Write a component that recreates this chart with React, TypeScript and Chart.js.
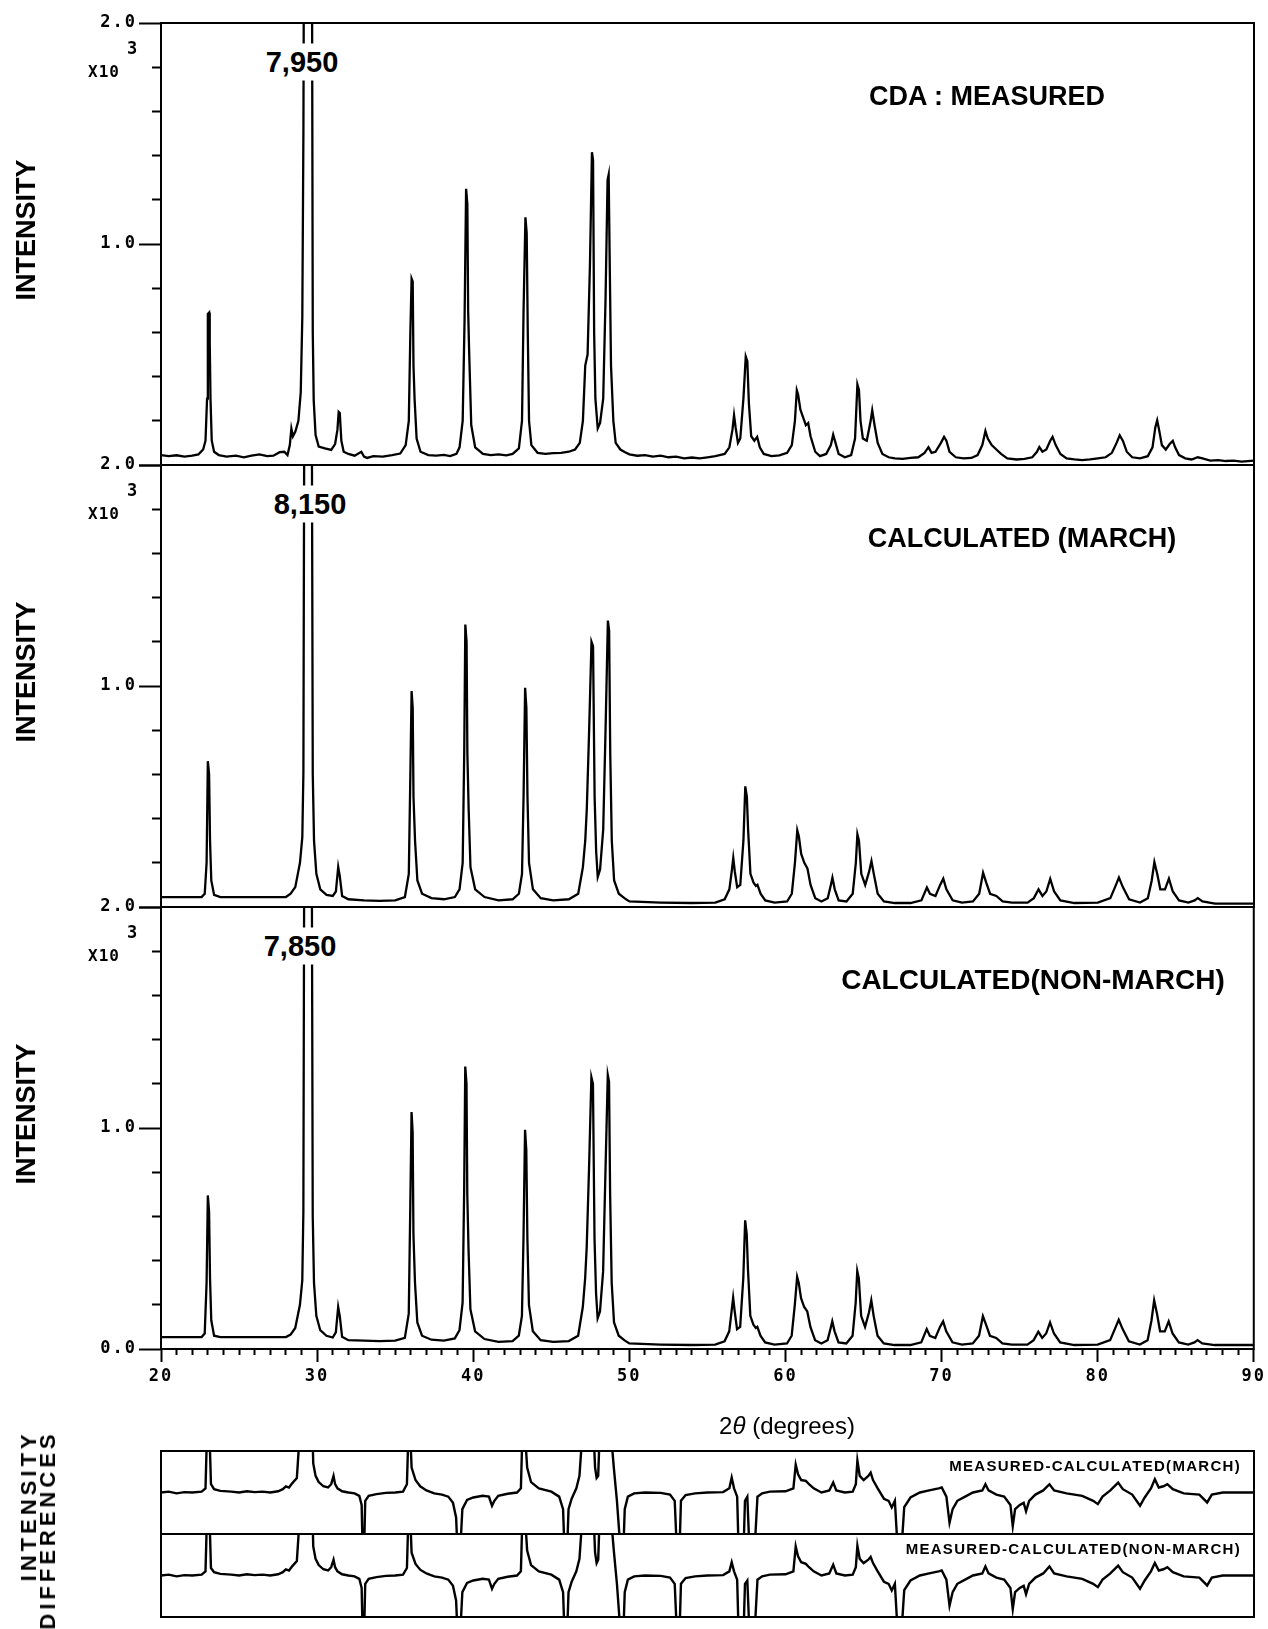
import React, { useEffect, useRef } from "react";
import { Chart, registerables } from "chart.js";

Chart.register(...registerables);

type Pt = [number, number];

// ---------- DATA (2θ in degrees, intensity in counts) ----------
const measured: Pt[] = [
  [20.0, 45], [20.5, 40], [21.0, 44], [21.5, 38], [22.0, 42], [22.4, 48], [22.7, 70], [22.85, 110],
  [22.95, 300], [23.0, 684], [23.08, 690], [23.12, 560], [23.17, 300], [23.25, 110], [23.4, 60],
  [23.7, 45], [24.2, 38], [24.8, 42], [25.3, 35], [25.8, 42], [26.3, 48], [26.8, 40], [27.2, 42],
  [27.6, 58], [27.9, 60], [28.1, 45], [28.25, 90], [28.35, 165], [28.45, 130], [28.6, 150],
  [28.8, 200], [28.95, 330], [29.05, 669], [29.12, 1500], [29.18, 3000], [29.35, 7950],
  [29.5, 5200], [29.66, 2600], [29.72, 600], [29.78, 293], [29.9, 136], [30.1, 83], [30.5, 75],
  [30.9, 68], [31.15, 95], [31.3, 160], [31.38, 240], [31.45, 235], [31.55, 110], [31.7, 60],
  [32.0, 50], [32.4, 42], [32.83, 60], [33.0, 38], [33.2, 32], [33.6, 40], [34.2, 38], [34.8, 45],
  [35.32, 52], [35.67, 90], [35.87, 200], [35.97, 600], [36.05, 843], [36.12, 830], [36.17, 450],
  [36.24, 300], [36.37, 120], [36.62, 60], [37.12, 45], [37.62, 42], [38.12, 46], [38.52, 40],
  [38.92, 50], [39.12, 80], [39.32, 200], [39.44, 650], [39.54, 1250], [39.62, 1180], [39.67, 700],
  [39.74, 500], [39.87, 180], [40.12, 80], [40.62, 50], [41.12, 45], [41.62, 48], [42.12, 44],
  [42.52, 50], [42.92, 75], [43.12, 200], [43.22, 700], [43.34, 1121], [43.42, 1050], [43.49, 600],
  [43.57, 200], [43.72, 90], [44.12, 55], [44.62, 50], [45.12, 54], [45.62, 55], [46.12, 60],
  [46.52, 70], [46.82, 100], [47.02, 200], [47.17, 450], [47.32, 500], [47.47, 900], [47.6, 1415],
  [47.67, 1380], [47.74, 600], [47.82, 300], [47.97, 166], [48.12, 190], [48.32, 300], [48.47, 750],
  [48.6, 1290], [48.67, 1314], [48.74, 900], [48.82, 450], [48.97, 200], [49.12, 100], [49.42, 70],
  [49.72, 58], [50.0, 48], [50.5, 42], [51.0, 45], [51.5, 38], [52.0, 42], [52.5, 35], [53.0, 38],
  [53.5, 30], [54.0, 34], [54.5, 30], [55.0, 35], [55.5, 40], [56.1, 50], [56.4, 80], [56.6, 160],
  [56.7, 225], [56.8, 170], [56.95, 100], [57.1, 120], [57.3, 300], [57.45, 491], [57.55, 470],
  [57.65, 280], [57.8, 130], [58.0, 110], [58.18, 127], [58.35, 80], [58.6, 50], [59.1, 40],
  [59.6, 44], [60.1, 55], [60.4, 90], [60.6, 200], [60.72, 338], [60.8, 320], [60.95, 250],
  [61.1, 220], [61.3, 180], [61.45, 190], [61.6, 130], [61.9, 60], [62.2, 40], [62.6, 50],
  [62.9, 90], [63.05, 137], [63.2, 100], [63.4, 50], [63.8, 35], [64.2, 45], [64.45, 120],
  [64.6, 365], [64.7, 340], [64.8, 200], [64.95, 120], [65.2, 110], [65.45, 200], [65.55, 247],
  [65.7, 180], [65.9, 100], [66.2, 50], [66.6, 35], [67.0, 30], [67.5, 28], [68.0, 32], [68.5, 35],
  [68.9, 55], [69.15, 81], [69.35, 55], [69.6, 60], [69.95, 100], [70.15, 127], [70.3, 110],
  [70.5, 60], [70.9, 35], [71.4, 30], [71.9, 32], [72.3, 45], [72.6, 90], [72.8, 154], [72.95, 120],
  [73.2, 90], [73.5, 70], [73.8, 50], [74.2, 30], [74.8, 25], [75.3, 28], [75.8, 35], [76.1, 60],
  [76.25, 81], [76.45, 60], [76.7, 70], [76.95, 110], [77.1, 127], [77.3, 90], [77.6, 50],
  [78.0, 30], [78.5, 25], [79.0, 22], [79.5, 25], [80.0, 30], [80.5, 35], [80.9, 55], [81.2, 100],
  [81.4, 134], [81.6, 110], [81.85, 60], [82.2, 35], [82.7, 30], [83.2, 40], [83.5, 80],
  [83.68, 170], [83.8, 202], [83.92, 160], [84.1, 90], [84.35, 70], [84.6, 95], [84.8, 109],
  [84.95, 80], [85.2, 45], [85.6, 30], [86.0, 25], [86.4, 35], [86.7, 30], [87.2, 20], [87.7, 22],
  [88.2, 18], [88.7, 20], [89.2, 15], [90.0, 20],
];

const calcMarch: Pt[] = [
  [20.0, 45], [22.6, 45], [22.8, 60], [22.92, 200], [23.0, 660], [23.08, 600], [23.14, 300],
  [23.22, 120], [23.4, 55], [23.8, 45], [28.0, 45], [28.3, 60], [28.6, 90], [28.9, 200],
  [29.05, 316], [29.12, 610], [29.2, 3000], [29.35, 8150], [29.5, 5000], [29.65, 2500],
  [29.72, 600], [29.8, 300], [29.95, 150], [30.2, 80], [30.6, 55], [31.0, 50], [31.2, 70],
  [31.35, 181], [31.45, 140], [31.6, 50], [32.0, 35], [33.0, 30], [34.0, 28], [35.0, 30],
  [35.62, 45], [35.87, 150], [35.97, 600], [36.05, 977], [36.12, 900], [36.17, 500], [36.27, 300],
  [36.42, 120], [36.72, 60], [37.32, 40], [38.12, 35], [38.82, 45], [39.12, 80], [39.32, 200],
  [39.42, 700], [39.49, 1278], [39.57, 1200], [39.62, 700], [39.7, 450], [39.82, 180], [40.12, 80],
  [40.72, 45], [41.62, 30], [42.52, 35], [42.92, 60], [43.12, 150], [43.22, 500], [43.32, 992],
  [43.4, 900], [43.47, 500], [43.57, 200], [43.82, 80], [44.32, 40], [45.12, 30], [46.12, 35],
  [46.72, 60], [47.02, 180], [47.17, 300], [47.27, 445], [47.42, 800], [47.57, 1200], [47.67, 1180],
  [47.77, 500], [47.87, 250], [47.97, 136], [48.12, 170], [48.32, 350], [48.47, 800], [48.62, 1296],
  [48.7, 1250], [48.77, 700], [48.87, 300], [49.02, 120], [49.32, 60], [49.72, 38], [50.0, 25],
  [52.0, 20], [54.0, 18], [55.5, 20], [56.1, 35], [56.4, 80], [56.55, 160], [56.65, 222],
  [56.75, 160], [56.9, 90], [57.1, 100], [57.3, 300], [57.42, 546], [57.52, 500], [57.6, 350],
  [57.75, 150], [57.95, 110], [58.1, 95], [58.2, 100], [58.4, 60], [58.7, 30], [59.3, 20],
  [60.1, 25], [60.4, 60], [60.6, 200], [60.75, 347], [60.85, 320], [61.0, 240], [61.2, 200],
  [61.4, 175], [61.6, 100], [61.9, 40], [62.3, 25], [62.7, 40], [62.9, 100], [63.0, 133],
  [63.15, 80], [63.4, 30], [63.9, 25], [64.3, 60], [64.5, 200], [64.6, 329], [64.7, 300],
  [64.85, 150], [65.1, 100], [65.35, 160], [65.5, 208], [65.65, 150], [65.9, 60], [66.3, 25],
  [67.0, 18], [68.0, 18], [68.7, 30], [69.05, 88], [69.25, 60], [69.6, 50], [69.9, 100],
  [70.1, 128], [70.3, 80], [70.7, 30], [71.3, 20], [72.0, 25], [72.4, 60], [72.65, 155],
  [72.85, 110], [73.1, 60], [73.5, 50], [73.9, 25], [74.5, 20], [75.5, 20], [75.9, 40],
  [76.2, 80], [76.45, 50], [76.7, 70], [76.95, 127], [77.2, 70], [77.6, 30], [78.5, 18],
  [80.0, 20], [80.8, 40], [81.1, 90], [81.35, 133], [81.6, 90], [82.0, 35], [82.7, 20],
  [83.2, 40], [83.45, 120], [83.62, 203], [83.8, 150], [84.0, 80], [84.3, 80], [84.55, 128],
  [84.8, 70], [85.2, 30], [85.8, 20], [86.2, 30], [86.4, 40], [86.7, 25], [87.5, 15], [90.0, 15],
];

const calcNonMarch: Pt[] = [
  [20.0, 54], [22.6, 54], [22.8, 70], [22.92, 300], [23.0, 695], [23.08, 620], [23.14, 320],
  [23.22, 130], [23.4, 60], [23.8, 54], [28.0, 54], [28.3, 65], [28.6, 95], [28.9, 200],
  [29.05, 310], [29.12, 620], [29.2, 3000], [29.35, 7850], [29.5, 5000], [29.65, 2500],
  [29.72, 600], [29.8, 300], [29.95, 150], [30.2, 85], [30.6, 60], [31.0, 52], [31.2, 75],
  [31.35, 190], [31.45, 150], [31.6, 55], [32.0, 40], [33.0, 38], [34.0, 36], [35.0, 38],
  [35.62, 50], [35.87, 160], [35.97, 650], [36.05, 1072], [36.12, 980], [36.17, 520], [36.27, 300],
  [36.42, 120], [36.72, 60], [37.32, 42], [38.12, 38], [38.82, 48], [39.12, 85], [39.32, 210],
  [39.42, 720], [39.49, 1278], [39.57, 1200], [39.62, 700], [39.7, 450], [39.82, 180], [40.12, 80],
  [40.72, 45], [41.62, 32], [42.52, 36], [42.92, 60], [43.12, 150], [43.22, 500], [43.32, 992],
  [43.4, 900], [43.47, 500], [43.57, 200], [43.82, 80], [44.32, 40], [45.12, 32], [46.12, 36],
  [46.72, 60], [47.02, 190], [47.17, 320], [47.27, 461], [47.42, 820], [47.57, 1230], [47.67, 1200],
  [47.77, 500], [47.87, 250], [47.97, 139], [48.12, 170], [48.32, 350], [48.47, 800], [48.62, 1240],
  [48.7, 1210], [48.77, 700], [48.87, 300], [49.02, 120], [49.32, 60], [49.72, 38], [50.0, 25],
  [52.0, 20], [54.0, 18], [55.5, 20], [56.1, 35], [56.4, 80], [56.55, 170], [56.65, 232],
  [56.75, 170], [56.9, 90], [57.1, 100], [57.3, 320], [57.42, 582], [57.52, 520], [57.6, 360],
  [57.75, 150], [57.95, 110], [58.1, 95], [58.2, 100], [58.4, 60], [58.7, 30], [59.3, 20],
  [60.1, 25], [60.4, 60], [60.6, 200], [60.75, 326], [60.85, 300], [61.0, 230], [61.2, 190],
  [61.4, 170], [61.6, 100], [61.9, 40], [62.3, 25], [62.7, 40], [62.9, 95], [63.0, 125],
  [63.15, 80], [63.4, 30], [63.9, 25], [64.3, 60], [64.5, 210], [64.6, 353], [64.7, 320],
  [64.85, 150], [65.1, 100], [65.35, 165], [65.5, 220], [65.65, 150], [65.9, 60], [66.3, 25],
  [67.0, 18], [68.0, 18], [68.7, 30], [69.05, 90], [69.25, 60], [69.6, 50], [69.9, 100],
  [70.1, 125], [70.3, 80], [70.7, 30], [71.3, 20], [72.0, 25], [72.4, 60], [72.65, 148],
  [72.85, 110], [73.1, 60], [73.5, 50], [73.9, 25], [74.5, 20], [75.5, 20], [75.9, 40],
  [76.2, 78], [76.45, 50], [76.7, 70], [76.95, 120], [77.2, 70], [77.6, 30], [78.5, 18],
  [80.0, 20], [80.8, 40], [81.1, 90], [81.35, 132], [81.6, 90], [82.0, 35], [82.7, 20],
  [83.2, 40], [83.45, 130], [83.62, 220], [83.8, 160], [84.0, 80], [84.3, 80], [84.55, 125],
  [84.8, 70], [85.2, 30], [85.8, 20], [86.2, 30], [86.4, 40], [86.7, 25], [87.5, 18], [90.0, 18],
];

// Differences, arbitrary units (panel spans -100 .. 100; larger values run off the frame)
const diffMarch: Pt[] = [
  [20.0, 0], [20.5, 2], [21.0, -2], [21.5, 1], [22.0, 0], [22.6, 2], [22.85, 10], [22.95, 150],
  [23.1, 150], [23.2, 20], [23.4, 8], [23.8, 4], [24.5, 2], [25.0, 0], [25.5, 3], [26.0, 1],
  [26.5, 2], [27.0, 0], [27.5, 3], [27.8, 8], [28.0, 15], [28.2, 12], [28.4, 22], [28.7, 35],
  [28.9, 150], [29.7, 150], [29.75, 70], [29.9, 40], [30.1, 25], [30.4, 15], [30.7, 12],
  [30.9, 20], [31.05, 40], [31.15, 20], [31.3, 10], [31.6, 3], [32.0, 0], [32.4, -2], [32.7, -8],
  [32.85, -30], [32.92, -150], [33.0, -150], [33.08, -20], [33.3, -8], [33.8, -4], [34.4, -1],
  [35.0, 0], [35.5, 2], [35.75, 20], [35.85, 150], [35.95, 150], [36.05, 60], [36.3, 30],
  [36.6, 15], [37.0, 5], [37.5, -2], [38.0, -5], [38.4, -10], [38.7, -25], [38.9, -60],
  [39.0, -150], [39.15, -150], [39.3, -40], [39.6, -18], [40.0, -12], [40.6, -8], [41.0, -10],
  [41.2, -32], [41.35, -20], [41.6, -8], [42.2, -3], [42.8, 0], [43.05, 10], [43.15, 150],
  [43.3, 150], [43.45, 60], [43.7, 25], [44.2, 10], [45.0, 2], [45.5, -10], [45.75, -40],
  [45.85, -150], [46.0, -150], [46.1, -40], [46.3, -15], [46.6, 10], [46.8, 40], [47.0, 150],
  [47.7, 150], [47.8, 60], [47.9, 35], [48.0, 40], [48.1, 150], [48.8, 150], [49.0, 60],
  [49.2, -20], [49.45, -150], [49.6, -150], [49.7, -40], [49.9, -10], [50.3, -2], [51.0, 0],
  [52.0, -1], [52.6, -5], [52.9, -20], [53.05, -150], [53.2, -150], [53.3, -20], [53.6, -6],
  [54.2, -2], [55.0, 0], [56.0, 1], [56.4, 10], [56.55, 36], [56.7, 10], [56.9, -10],
  [57.0, -150], [57.3, -150], [57.4, -20], [57.55, -10], [57.7, -150], [58.0, -150], [58.2, -10],
  [58.5, -2], [59.0, 2], [60.0, 3], [60.5, 10], [60.65, 67], [60.8, 44], [61.0, 30], [61.3, 28],
  [61.5, 20], [61.8, 10], [62.3, 0], [62.8, 5], [63.05, 24], [63.25, 5], [63.8, 0], [64.3, 2],
  [64.5, 20], [64.6, 77], [64.75, 40], [65.0, 30], [65.3, 40], [65.45, 48], [65.6, 30],
  [65.9, 10], [66.3, -15], [66.6, -20], [66.8, -36], [67.0, -20], [67.2, -150], [67.4, -150],
  [67.6, -35], [68.0, -12], [68.6, 0], [69.2, 5], [69.8, 10], [70.0, 12], [70.3, -10],
  [70.5, -73], [70.7, -40], [71.0, -20], [71.5, -10], [72.0, 0], [72.6, 5], [72.8, 20], [73.0, 5],
  [73.5, -5], [74.0, -10], [74.4, -30], [74.55, -81], [74.7, -40], [75.0, -30], [75.25, -25],
  [75.4, -45], [75.6, -20], [76.0, -5], [76.5, 5], [76.9, 20], [77.2, 5], [78.0, -2], [79.0, -8],
  [79.7, -20], [80.0, -28], [80.3, -10], [80.8, 5], [81.3, 24], [81.6, 8], [82.2, -5],
  [82.7, -32], [83.0, -12], [83.4, 10], [83.65, 32], [83.9, 12], [84.2, 15], [84.45, 20],
  [84.8, 8], [85.5, -2], [86.5, -5], [87.0, -24], [87.3, -5], [88.0, 0], [89.0, 0], [90.0, 0],
];

const diffNonMarch: Pt[] = [
  [20.0, 0], [20.5, 2], [21.0, -2], [21.5, 1], [22.0, 0], [22.6, 2], [22.85, 10], [22.95, 150],
  [23.1, 150], [23.2, 18], [23.4, 8], [23.8, 4], [24.5, 2], [25.0, 0], [25.5, 3], [26.0, 1],
  [26.5, 2], [27.0, 0], [27.5, 3], [27.8, 8], [28.0, 15], [28.2, 12], [28.4, 22], [28.7, 35],
  [28.9, 150], [29.7, 150], [29.75, 70], [29.9, 40], [30.1, 25], [30.4, 15], [30.7, 12],
  [30.9, 20], [31.05, 38], [31.15, 20], [31.3, 10], [31.6, 3], [32.0, 0], [32.4, -2], [32.7, -8],
  [32.85, -30], [32.92, -150], [33.0, -150], [33.08, -20], [33.3, -8], [33.8, -4], [34.4, -1],
  [35.0, 0], [35.5, 2], [35.75, 18], [35.85, 150], [35.95, 150], [36.05, 55], [36.3, 28],
  [36.6, 14], [37.0, 5], [37.5, -2], [38.0, -5], [38.4, -10], [38.7, -25], [38.9, -60],
  [39.0, -150], [39.15, -150], [39.3, -40], [39.6, -18], [40.0, -12], [40.6, -8], [41.0, -10],
  [41.2, -32], [41.35, -20], [41.6, -8], [42.2, -3], [42.8, 0], [43.05, 10], [43.15, 150],
  [43.3, 150], [43.45, 60], [43.7, 25], [44.2, 10], [45.0, 2], [45.5, -10], [45.75, -40],
  [45.85, -150], [46.0, -150], [46.1, -40], [46.3, -15], [46.6, 10], [46.8, 40], [47.0, 150],
  [47.7, 150], [47.8, 55], [47.9, 30], [48.0, 38], [48.1, 150], [48.8, 150], [49.0, 60],
  [49.2, -20], [49.45, -150], [49.6, -150], [49.7, -40], [49.9, -10], [50.3, -2], [51.0, 0],
  [52.0, -1], [52.6, -5], [52.9, -20], [53.05, -150], [53.2, -150], [53.3, -20], [53.6, -6],
  [54.2, -2], [55.0, 0], [56.0, 1], [56.4, 10], [56.55, 32], [56.7, 10], [56.9, -10],
  [57.0, -150], [57.3, -150], [57.4, -20], [57.55, -12], [57.7, -150], [58.0, -150], [58.2, -10],
  [58.5, -2], [59.0, 2], [60.0, 3], [60.5, 10], [60.65, 70], [60.8, 46], [61.0, 32], [61.3, 28],
  [61.5, 20], [61.8, 10], [62.3, 0], [62.8, 5], [63.05, 26], [63.25, 5], [63.8, 0], [64.3, 2],
  [64.5, 20], [64.6, 72], [64.75, 40], [65.0, 30], [65.3, 38], [65.45, 45], [65.6, 30],
  [65.9, 10], [66.3, -15], [66.6, -20], [66.8, -36], [67.0, -20], [67.2, -150], [67.4, -150],
  [67.6, -35], [68.0, -12], [68.6, 0], [69.2, 5], [69.8, 10], [70.0, 12], [70.3, -10],
  [70.5, -73], [70.7, -40], [71.0, -20], [71.5, -10], [72.0, 0], [72.6, 5], [72.8, 22], [73.0, 5],
  [73.5, -5], [74.0, -10], [74.4, -30], [74.55, -81], [74.7, -40], [75.0, -30], [75.25, -25],
  [75.4, -45], [75.6, -20], [76.0, -5], [76.5, 5], [76.9, 22], [77.2, 5], [78.0, -2], [79.0, -8],
  [79.7, -20], [80.0, -28], [80.3, -10], [80.8, 5], [81.3, 24], [81.6, 8], [82.2, -5],
  [82.7, -32], [83.0, -12], [83.4, 10], [83.65, 30], [83.9, 12], [84.2, 15], [84.45, 20],
  [84.8, 8], [85.5, -2], [86.5, -5], [87.0, -24], [87.3, -5], [88.0, 0], [89.0, 0], [90.0, 0],
];

const panelTitles = ["CDA : MEASURED", "CALCULATED (MARCH)", "CALCULATED(NON-MARCH)"];
const peakLabels = ["7,950", "8,150", "7,850"];
const diffTitles = ["MEASURED-CALCULATED(MARCH)", "MEASURED-CALCULATED(NON-MARCH)"];
const xRange: [number, number] = [20, 90];
const yRange: [number, number] = [0, 2000];
const yLabelValues = [2000, 1000, 0];
const yLabelText = ["2.0", "1.0", "0.0"];

// ---------- LAYOUT ----------
const PAGE_W = 1268;
const PLOT_L = 161;
const PLOT_R = 1254;
const PANEL_TOPS = [23, 465, 907];
const PANEL_H = 442;
const DIFF_TOPS = [1451, 1534];
const DIFF_H = 83;
const PAD = 20;
const X_AXIS_H = 70;

const TICK_FONT = "'DejaVu Sans Mono', 'Liberation Mono', monospace";
const SANS = "'Liberation Sans', Arial, Helvetica, sans-serif";

const framePlugin = {
  id: "frame",
  beforeDraw(chart: any) {
    (chart.ctx as any).letterSpacing = "2px";
  },
  afterDatasetsDraw(chart: any) {
    const { ctx, chartArea: a } = chart;
    ctx.save();
    ctx.strokeStyle = "#000";
    ctx.lineWidth = 2;
    ctx.strokeRect(a.left, a.top, a.right - a.left, a.bottom - a.top);
    ctx.restore();
  },
};

function toXY(pts: Pt[]) {
  return pts.map(([x, y]) => ({ x, y }));
}

function mainOptions(showX: boolean, showZero: boolean) {
  return {
    animation: false,
    responsive: false,
    maintainAspectRatio: false,
    devicePixelRatio: 1,
    events: [],
    layout: { padding: { top: PAD, bottom: showX ? 0 : PAD, left: 0, right: PAGE_W - PLOT_R } },
    plugins: { legend: { display: false }, tooltip: { enabled: false } },
    elements: { point: { radius: 0 } },
    scales: {
      x: {
        type: "linear",
        min: xRange[0],
        max: xRange[1],
        display: showX,
        border: { display: false },
        grid: {
          drawOnChartArea: false,
          drawTicks: true,
          tickLength: 13,
          tickWidth: 2,
          tickColor: "#000",
          tickBorderDash: (c: any) => (c.tick && Math.abs(c.tick.value % 10) < 1e-6 ? [] : [6, 40]),
        },
        ticks: {
          stepSize: 1,
          autoSkip: false,
          maxRotation: 0,
          minRotation: 0,
          padding: 4,
          color: "#000",
          font: { family: TICK_FONT, weight: "bold", size: 17 },
          callback: (v: any) => (Math.abs(Number(v) % 10) < 1e-6 ? String(v) : ""),
        },
        afterFit: (s: any) => {
          if (showX) s.height = X_AXIS_H;
        },
      },
      y: {
        type: "linear",
        position: "left",
        min: yRange[0],
        max: yRange[1],
        border: { display: false },
        grid: {
          drawOnChartArea: false,
          drawTicks: true,
          tickLength: 22,
          tickWidth: 2,
          tickColor: "#000",
          tickBorderDash: (c: any) =>
            c.tick && Math.abs(c.tick.value % 1000) < 1e-6 ? [] : [0, 13, 10, 0],
        },
        ticks: {
          stepSize: 200,
          autoSkip: false,
          padding: 2,
          color: "#000",
          font: { family: TICK_FONT, weight: "bold", size: 17 },
          callback: (v: any) => {
            const i = yLabelValues.indexOf(Math.round(Number(v)));
            if (i < 0) return "";
            if (yLabelValues[i] === 0 && !showZero) return "";
            return yLabelText[i];
          },
        },
        afterFit: (s: any) => {
          s.width = PLOT_L;
        },
      },
    },
  };
}

function diffOptions() {
  return {
    animation: false,
    responsive: false,
    maintainAspectRatio: false,
    devicePixelRatio: 1,
    events: [],
    layout: { padding: { top: 6, bottom: 6, left: PLOT_L, right: PAGE_W - PLOT_R } },
    plugins: { legend: { display: false }, tooltip: { enabled: false } },
    elements: { point: { radius: 0 } },
    scales: {
      x: { type: "linear", min: xRange[0], max: xRange[1], display: false },
      y: { type: "linear", min: -100, max: 100, display: false },
    },
  };
}

function ChartCanvas(props: { pts: Pt[]; top: number; height: number; options: any; lw: number }) {
  const ref = useRef<HTMLCanvasElement | null>(null);
  useEffect(() => {
    if (!ref.current) return;
    const chart = new Chart(ref.current, {
      type: "line",
      data: {
        datasets: [
          {
            data: toXY(props.pts),
            borderColor: "#000",
            borderWidth: props.lw,
            pointRadius: 0,
            fill: false,
            tension: 0,
          },
        ],
      },
      options: props.options,
      plugins: [framePlugin],
    } as any);
    return () => chart.destroy();
  }, []);
  return (
    <canvas
      ref={ref}
      width={PAGE_W}
      height={props.height}
      style={{ position: "absolute", left: 0, top: props.top, width: PAGE_W, height: props.height }}
    />
  );
}

const txt = (extra: React.CSSProperties): React.CSSProperties => ({
  position: "absolute",
  whiteSpace: "nowrap",
  lineHeight: 1,
  color: "#000",
  ...extra,
});

export default function App() {
  const series = [measured, calcMarch, calcNonMarch];
  const titleCx = [987, 1022, 1033];
  const peakCx = [302, 310, 300];
  return (
    <div style={{ position: "absolute", left: 0, top: 0, width: PAGE_W, height: 1629, background: "#fff" }}>
      {series.map((s, i) => (
        <ChartCanvas
          key={"p" + i}
          pts={s}
          top={PANEL_TOPS[i] - PAD}
          height={i === 2 ? PANEL_H + PAD + X_AXIS_H : PANEL_H + 2 * PAD}
          options={mainOptions(i === 2, i === 2)}
          lw={2.3}
        />
      ))}
      {[diffMarch, diffNonMarch].map((s, i) => (
        <ChartCanvas key={"d" + i} pts={s} top={DIFF_TOPS[i] - 6} height={DIFF_H + 12} options={diffOptions()} lw={2.4} />
      ))}

      {PANEL_TOPS.map((t, i) => (
        <React.Fragment key={"a" + i}>
          <div
            style={txt({
              left: peakCx[i],
              top: t + 39,
              transform: "translate(-50%, -50%)",
              background: "#fff",
              padding: "4px 1px",
              fontFamily: SANS,
              fontWeight: 700,
              fontSize: 29,
            })}
          >
            {peakLabels[i]}
          </div>
          <div
            style={txt({
              left: titleCx[i],
              top: t + 73,
              transform: "translate(-50%, -50%)",
              fontFamily: SANS,
              fontWeight: 700,
              fontSize: i === 2 ? 28 : 27,
            })}
          >
            {panelTitles[i]}
          </div>
          <div style={txt({ left: 132, top: t + 25, transform: "translate(-50%, -50%)", fontFamily: TICK_FONT, fontWeight: 700, fontSize: 17 })}>
            3
          </div>
          <div
            style={txt({
              left: 104,
              top: t + 49,
              transform: "translate(-50%, -50%)",
              fontFamily: TICK_FONT,
              fontWeight: 700,
              fontSize: 16,
              letterSpacing: 1,
            })}
          >
            X10
          </div>
          <div
            style={txt({
              left: 26,
              top: t + PANEL_H / 2 - 14,
              transform: "translate(-50%, -50%) rotate(-90deg)",
              fontFamily: SANS,
              fontWeight: 700,
              fontSize: 27,
            })}
          >
            INTENSITY
          </div>
        </React.Fragment>
      ))}

      <div style={txt({ left: 787, top: 1426, transform: "translate(-50%, -50%)", fontFamily: SANS, fontSize: 24 })}>
        2<span style={{ fontStyle: "italic" }}>θ</span> (degrees)
      </div>

      <div
        style={txt({
          left: 38,
          top: 1530,
          transform: "translate(-50%, -50%) rotate(-90deg)",
          fontFamily: SANS,
          fontWeight: 700,
          fontSize: 22,
          lineHeight: "19px",
          letterSpacing: 4,
          textAlign: "right",
        })}
      >
        INTENSITY
        <br />
        DIFFERENCES
      </div>

      {DIFF_TOPS.map((t, i) => (
        <div
          key={"dt" + i}
          style={txt({
            right: PAGE_W - 1241,
            top: t + 14,
            transform: "translateY(-50%)",
            fontFamily: SANS,
            fontWeight: 700,
            fontSize: 15,
            letterSpacing: 1.3,
          })}
        >
          {diffTitles[i]}
        </div>
      ))}
    </div>
  );
}
